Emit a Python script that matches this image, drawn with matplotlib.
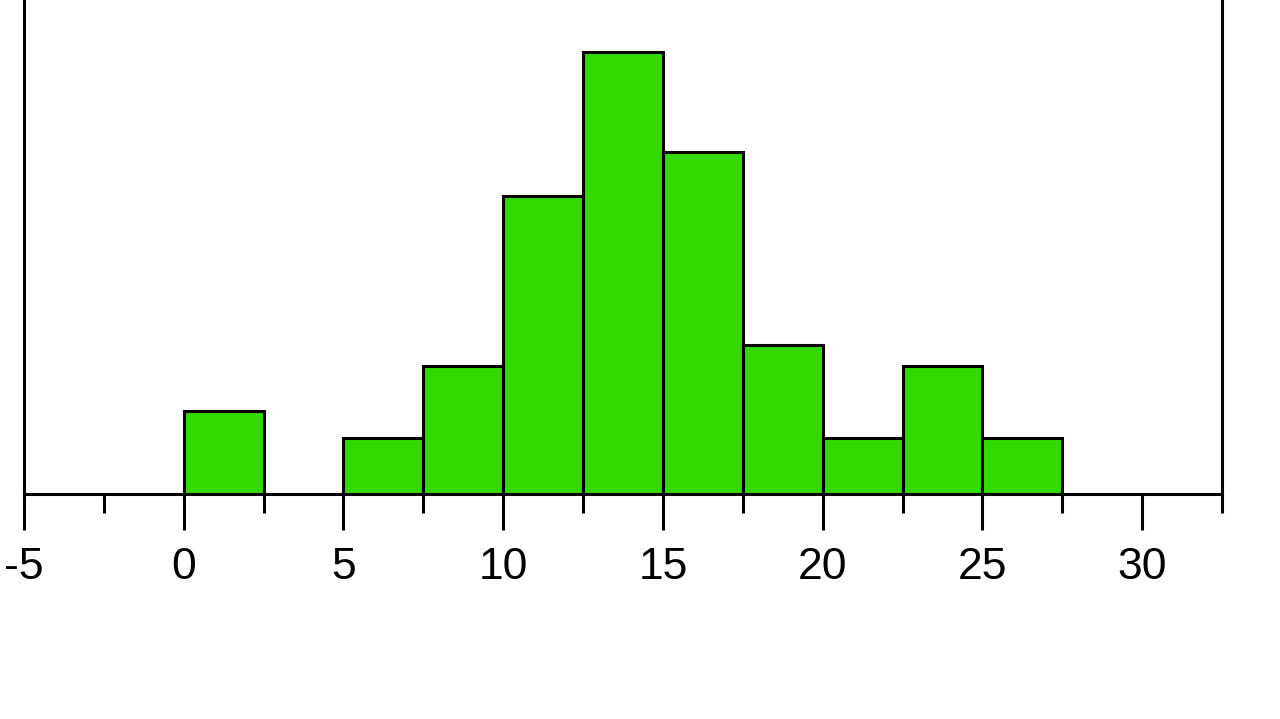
import numpy as np
import matplotlib.pyplot as plt
from matplotlib.ticker import MultipleLocator

# bin edges (width 2.5) and bar heights
bin_edges = [0, 2.5, 5, 7.5, 10, 12.5, 15, 17.5, 20, 22.5, 25, 27.5]
heights = [8.3, 0, 5.6, 12.8, 29.8, 44.2, 34.2, 14.9, 5.6, 12.8, 5.6]
tick_values = [-5, 0, 5, 10, 15, 20, 25, 30]

plt.rcParams['font.family'] = ['Liberation Sans Narrow', 'Liberation Sans', 'DejaVu Sans']
plt.rcParams['axes.unicode_minus'] = False

fig = plt.figure(figsize=(12.8, 7.19), dpi=100)
ax = fig.add_axes([24 / 1280, 1 - 494 / 719, (1222 - 24) / 1280, 494 / 719])

for left, right, h in zip(bin_edges[:-1], bin_edges[1:], heights):
    if h > 0:
        ax.bar(left, h, width=right - left, align='edge', color='#33d900',
               edgecolor='black', linewidth=2.2)

ax.set_xlim(-5, 32.5)
ax.set_ylim(0, 49.4)

ax.spines['top'].set_visible(False)
for s in ['left', 'right', 'bottom']:
    ax.spines[s].set_linewidth(2.2)
ax.set_yticks([])
ax.set_xticks(tick_values)
ax.xaxis.set_minor_locator(MultipleLocator(2.5))
ax.tick_params(axis='x', which='major', direction='out', length=26, width=2.2,
               pad=12, labelsize=32)
ax.tick_params(axis='x', which='minor', direction='out', length=14, width=2.2)

fig.savefig('out.png', dpi=100)
